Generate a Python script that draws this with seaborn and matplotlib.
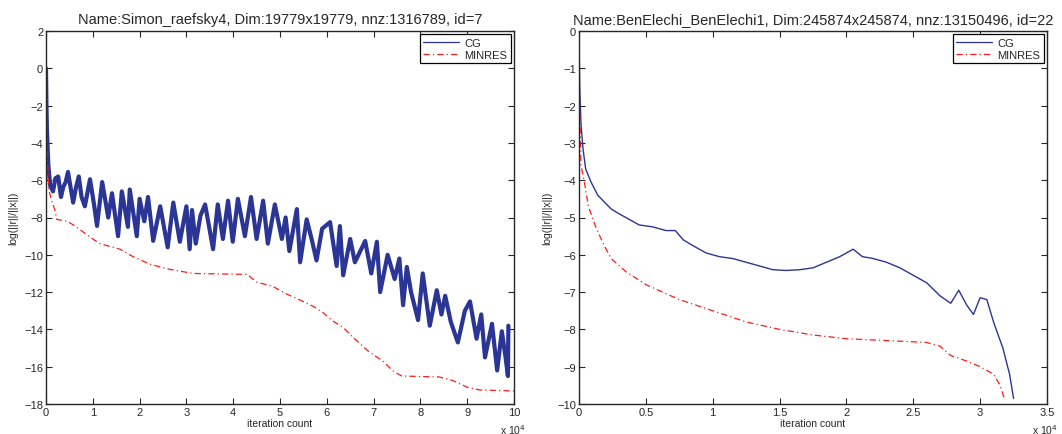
import numpy as np
import pandas as pd
import seaborn as sns
import matplotlib
matplotlib.use("Agg")
import matplotlib.pyplot as plt

# ---------------- data (x in units of 10^4 iterations) ----------------
left_title = "Name:Simon_raefsky4, Dim:19779x19779, nnz:1316789, id=7"
right_title = "Name:BenElechi_BenElechi1, Dim:245874x245874, nnz:13150496, id=22"

left_cg_x = [0.0, 0.01, 0.02, 0.05, 0.09, 0.15, 0.2, 0.26, 0.32, 0.37, 0.42, 0.47, 0.58, 0.64,
             0.7, 0.76, 0.83, 0.94, 1.02, 1.09, 1.2, 1.33, 1.41, 1.54, 1.62, 1.75, 1.79, 1.94,
             2.0, 2.1, 2.18, 2.29, 2.44, 2.6, 2.72, 2.86, 3.0, 3.07, 3.12, 3.2, 3.3, 3.4, 3.57,
             3.67, 3.78, 3.89, 3.99, 4.1, 4.25, 4.38, 4.5, 4.64, 4.74, 4.89, 5.04, 5.12, 5.2,
             5.36, 5.43, 5.57, 5.68, 5.78, 5.9, 6.07, 6.21, 6.28, 6.35, 6.5, 6.6, 6.82, 6.95,
             7.07, 7.14, 7.3, 7.45, 7.55, 7.63, 7.71, 7.8, 7.95, 8.05, 8.2, 8.35, 8.45, 8.53,
             8.65, 8.8, 8.95, 9.06, 9.2, 9.3, 9.38, 9.53, 9.64, 9.74, 9.82, 9.87, 9.88]
left_cg_y = [0.0, -2.0, -3.3, -5.2, -6.3, -6.6, -5.9, -5.8, -6.9, -6.35, -6.1, -5.56, -7.2, -6.4,
             -5.8, -6.9, -7.4, -5.95, -7.2, -8.45, -6.1, -8.0, -6.7, -9.0, -6.6, -8.5, -6.5, -9.0,
             -7.0, -8.2, -6.9, -9.25, -7.4, -9.6, -7.2, -9.3, -7.4, -9.7, -7.6, -9.4, -7.9, -7.3,
             -9.7, -7.3, -9.15, -7.1, -9.3, -7.0, -9.0, -6.9, -9.15, -7.1, -9.4, -7.3, -9.15,
             -8.0, -9.8, -7.55, -10.4, -8.1, -9.2, -10.3, -8.6, -8.25, -10.6, -8.46, -11.1,
             -9.15, -10.4, -9.26, -11.0, -9.3, -12.0, -10.0, -11.3, -10.2, -12.7, -10.65,
             -12.0, -13.5, -11.0, -13.8, -11.9, -13.2, -12.2, -13.6, -14.7, -13.0, -12.5,
             -14.5, -13.2, -15.5, -13.7, -16.2, -14.1, -15.5, -16.5, -13.8]

left_mr_x = [0.0, 0.02, 0.06, 0.12, 0.19, 0.23, 0.45, 0.62, 0.94, 1.15, 1.58, 1.86, 2.22, 2.58,
             3.14, 4.3, 4.5, 4.85, 5.14, 5.49, 5.7, 5.92, 6.13, 6.35, 6.55, 6.9, 7.2, 7.4, 7.6,
             8.4, 8.7, 9.0, 9.27, 10.0]
left_mr_y = [0.0, -4.5, -6.5, -7.1, -7.6, -8.1, -8.2, -8.45, -9.05, -9.4, -9.7, -10.1, -10.5,
             -10.75, -11.0, -11.05, -11.46, -11.7, -12.1, -12.5, -12.75, -13.1, -13.55, -13.9,
             -14.4, -15.2, -15.7, -16.2, -16.5, -16.55, -16.75, -17.1, -17.25, -17.3]

right_cg_x = [0.0, 0.005, 0.015, 0.03, 0.05, 0.09, 0.14, 0.18, 0.24, 0.3, 0.35, 0.45, 0.55, 0.65,
              0.72, 0.78, 0.85, 0.95, 1.05, 1.15, 1.25, 1.35, 1.45, 1.55, 1.65, 1.75, 1.85,
              1.95, 2.05, 2.12, 2.2, 2.3, 2.4, 2.5, 2.6, 2.7, 2.78, 2.84, 2.9, 2.95, 3.0, 3.05,
              3.1, 3.17, 3.22, 3.25]
right_cg_y = [0.0, -1.5, -2.5, -3.16, -3.7, -4.05, -4.4, -4.55, -4.77, -4.9, -5.0, -5.2, -5.25,
              -5.35, -5.35, -5.6, -5.75, -5.95, -6.05, -6.1, -6.2, -6.3, -6.4, -6.42, -6.4,
              -6.35, -6.2, -6.05, -5.85, -6.05, -6.1, -6.2, -6.35, -6.55, -6.75, -7.1, -7.3,
              -6.95, -7.35, -7.6, -7.15, -7.2, -7.8, -8.5, -9.2, -9.85]

right_mr_x = [0.0, 0.005, 0.015, 0.04, 0.07, 0.13, 0.19, 0.24, 0.35, 0.5, 0.75, 1.0, 1.25, 1.5,
              1.75, 2.0, 2.3, 2.6, 2.7, 2.78, 2.9, 3.0, 3.1, 3.15, 3.18]
right_mr_y = [0.0, -2.0, -3.6, -4.05, -4.7, -5.3, -5.76, -6.1, -6.45, -6.8, -7.2, -7.5, -7.8,
              -8.0, -8.15, -8.25, -8.3, -8.35, -8.45, -8.7, -8.85, -9.0, -9.2, -9.5, -9.85]

left_xticks = [0, 1, 2, 3, 4, 5, 6, 7, 8, 9, 10]
left_yticks = [-18, -16, -14, -12, -10, -8, -6, -4, -2, 0, 2]
right_xticks = [0, 0.5, 1, 1.5, 2, 2.5, 3, 3.5]
right_yticks = [-10, -9, -8, -7, -6, -5, -4, -3, -2, -1, 0]

# ---------------- styling ----------------
sns.set_style("ticks")
plt.rcParams['font.family'] = ['Liberation Sans', 'DejaVu Sans']
plt.rcParams['axes.unicode_minus'] = True

CG_COLOR = "#2b3595"
MR_COLOR = "#ff1a1a"

fig = plt.figure(figsize=(10.62, 4.35), dpi=100)
ax1 = fig.add_axes([46 / 1062, 1 - 405 / 435, 468 / 1062, 373 / 435])
ax2 = fig.add_axes([579 / 1062, 1 - 405 / 435, 468 / 1062, 373 / 435])


def draw(ax, cgx, cgy, mrx, mry, title, xlim, ylim, xt, yt, cg_lw):
    dcg = pd.DataFrame({"x": cgx, "y": cgy})
    dmr = pd.DataFrame({"x": mrx, "y": mry})
    sns.lineplot(data=dcg, x="x", y="y", ax=ax, sort=False, estimator=None,
                 color=CG_COLOR, lw=cg_lw, label="CG", solid_joinstyle="round")
    sns.lineplot(data=dmr, x="x", y="y", ax=ax, sort=False, estimator=None,
                 color=MR_COLOR, lw=0.9, label="MINRES", linestyle=(0, (5, 2.5, 1, 2.5)))
    ax.set_xlim(*xlim)
    ax.set_ylim(*ylim)
    ax.set_xticks(xt)
    ax.set_yticks(yt)
    ax.set_xticklabels([f"{v:g}" for v in xt])
    ax.set_yticklabels([f"{v:g}".replace("-", "\u2212") for v in yt])
    ax.tick_params(direction="in", top=True, right=True, labelsize=8, length=4,
                   width=0.8, pad=2)
    for s in ax.spines.values():
        s.set_linewidth(1.0)
        s.set_visible(True)
    ax.set_xlabel("iteration count", fontsize=7.5, labelpad=1)
    ax.set_ylabel("log(||r||/||x||)", fontsize=7.5, labelpad=4)
    ax.set_title(title, fontsize=10.5, pad=6)
    leg = ax.legend(loc="upper right", fontsize=8, frameon=True, fancybox=False,
                    framealpha=1, edgecolor="black", borderpad=0.3, labelspacing=0.2,
                    handlelength=3.2, handletextpad=0.5, borderaxespad=0.3)
    leg.get_frame().set_linewidth(0.9)
    for ln in leg.get_lines():
        ln.set_linewidth(0.9)


draw(ax1, left_cg_x, left_cg_y, left_mr_x, left_mr_y, left_title,
     (0, 10), (-18, 2), left_xticks, left_yticks, 3.0)
draw(ax2, right_cg_x, right_cg_y, right_mr_x, right_mr_y, right_title,
     (0, 3.5), (-10, 0), right_xticks, right_yticks, 1.0)

fig.text(500 / 1062, 1 - 430 / 435, r"x 10$^4$", fontsize=7.5, ha="left", va="center")
fig.text(1032 / 1062, 1 - 430 / 435, r"x 10$^4$", fontsize=7.5, ha="left", va="center")

fig.savefig("out.png", dpi=100)
